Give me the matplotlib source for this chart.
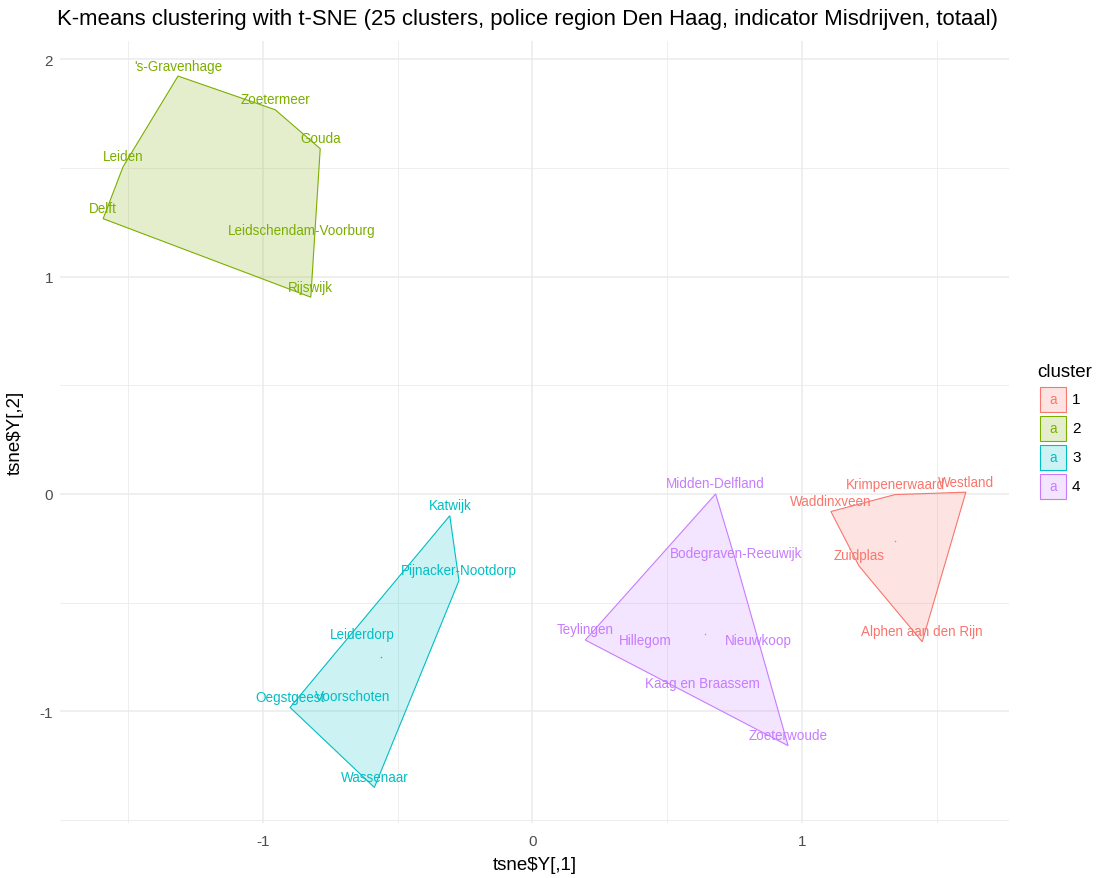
import numpy as np
import matplotlib
matplotlib.use('Agg')
import matplotlib.pyplot as plt
from matplotlib.patches import Polygon, Rectangle

plt.rcParams['font.family'] = ['Liberation Sans', 'DejaVu Sans']
plt.rcParams['axes.unicode_minus'] = False

# t-SNE coordinates per municipality with the k-means cluster they fell in
municipalities = [
    "'s-Gravenhage", "Zoetermeer", "Gouda", "Leiden", "Delft",
    "Leidschendam-Voorburg", "Rijswijk",
    "Katwijk", "Pijnacker-Nootdorp", "Leiderdorp", "Oegstgeest",
    "Voorschoten", "Wassenaar",
    "Midden-Delfland", "Bodegraven-Reeuwijk", "Teylingen", "Hillegom",
    "Nieuwkoop", "Kaag en Braassem", "Zoeterwoude",
    "Westland", "Krimpenerwaard", "Waddinxveen", "Zuidplas",
    "Alphen aan den Rijn",
]
tsne_x = [
    -1.316, -0.955, -0.788, -1.520, -1.594, -0.858, -0.823,
    -0.307, -0.273, -0.631, -0.900, -0.668, -0.587,
    0.680, 0.757, 0.196, 0.420, 0.840, 0.631, 0.949,
    1.609, 1.346, 1.108, 1.212, 1.447,
]
tsne_y = [
    1.922, 1.767, 1.588, 1.505, 1.266, 1.164, 0.905,
    -0.100, -0.399, -0.695, -0.982, -0.976, -1.350,
    0.000, -0.318, -0.672, -0.722, -0.722, -0.920, -1.158,
    0.008, -0.003, -0.081, -0.331, -0.680,
]
cluster = [2] * 7 + [3] * 6 + [4] * 7 + [1] * 5

cluster_levels = [1, 2, 3, 4]
cluster_colors = ['#F8766D', '#7CAE00', '#00BFC4', '#C77CFF']
show_centre = [True, False, True, True]

TITLE = ('K-means clustering with t-SNE (25 clusters, police region Den Haag, '
         'indicator Misdrijven, totaal)')


def convex_hull(pts):
    """Monotone chain hull, returns vertices counter-clockwise."""
    pts = sorted(set(map(tuple, pts)))
    if len(pts) < 3:
        return pts

    def cross(o, a, b):
        return (a[0] - o[0]) * (b[1] - o[1]) - (a[1] - o[1]) * (b[0] - o[0])

    lower, upper = [], []
    for p in pts:
        while len(lower) >= 2 and cross(lower[-2], lower[-1], p) <= 0:
            lower.pop()
        lower.append(p)
    for p in reversed(pts):
        while len(upper) >= 2 and cross(upper[-2], upper[-1], p) <= 0:
            upper.pop()
        upper.append(p)
    return lower[:-1] + upper[:-1]


x = np.array(tsne_x)
y = np.array(tsne_y)
cl = np.array(cluster)

W, H = 1102, 879
fig = plt.figure(figsize=(W / 100, H / 100), dpi=100)
ax = fig.add_axes([60 / W, 1 - 824 / H, (1009 - 60) / W, (824 - 41.5) / H])

for lvl, col, centre in zip(cluster_levels, cluster_colors, show_centre):
    m = cl == lvl
    hull = convex_hull(np.column_stack([x[m], y[m]]))
    ax.add_patch(Polygon(hull, closed=True, facecolor=col, alpha=0.2,
                         edgecolor='none', zorder=2))
    ax.add_patch(Polygon(hull, closed=True, facecolor='none',
                         edgecolor=col, linewidth=0.8, zorder=3))
    if centre:
        ax.scatter([x[m].mean()], [y[m].mean()], s=1.2, color=col,
                   linewidths=0, zorder=4)
    for name, px, py in zip(np.array(municipalities)[m], x[m], y[m]):
        ax.annotate(name, (px, py), xytext=(0, 7.6), textcoords='offset points',
                    ha='center', va='center', fontsize=9.75, color=col,
                    zorder=5)

# ggplot-like default expansion of 5% on each side
xr = x.max() - x.min()
yr = y.max() - y.min()
ax.set_xlim(x.min() - 0.05 * xr, x.max() + 0.05 * xr)
ax.set_ylim(y.min() - 0.05 * yr, y.max() + 0.05 * yr)

ax.set_xticks([-1, 0, 1])
ax.set_xticks([-1.5, -0.5, 0.5, 1.5], minor=True)
ax.set_yticks([-1, 0, 1, 2])
ax.set_yticks([-1.5, -0.5, 0.5, 1.5], minor=True)
ax.grid(True, which='major', color='#EBEBEB', linewidth=1.1, zorder=0)
ax.grid(True, which='minor', color='#EBEBEB', linewidth=0.6, zorder=0)
ax.set_axisbelow(True)
for s in ax.spines.values():
    s.set_visible(False)
ax.tick_params(which='both', length=0, labelsize=11, labelcolor='#4D4D4D')
ax.tick_params(axis='x', pad=8)
ax.tick_params(axis='y', pad=5)

ax.set_xlabel(r'tsne\$Y[,1]', fontsize=13.5, va='center')
ax.set_ylabel(r'tsne\$Y[,2]', fontsize=13.5, va='center')
ax.xaxis.set_label_coords(0.5, (824 - 866) / (824 - 41.5))
ax.yaxis.set_label_coords((15 - 60) / (1009 - 60), 0.5)

fig.text(57 / W, 1 - 19 / H, TITLE, fontsize=15.9, ha='left', va='center')

# legend drawn in pixel space on an overlay
lg = fig.add_axes([0, 0, 1, 1])
lg.set_xlim(0, W)
lg.set_ylim(H, 0)
lg.axis('off')
lg.text(1037, 373, 'cluster', fontsize=13.5, ha='left', va='center')
for i, (lvl, col) in enumerate(zip(cluster_levels, cluster_colors)):
    top = 388 + i * 29
    lg.add_patch(Rectangle((1040, top), 26, 25, facecolor=col, alpha=0.2,
                           edgecolor='none'))
    lg.add_patch(Rectangle((1040, top), 26, 25, facecolor='none',
                           edgecolor=col, linewidth=0.8))
    lg.text(1053, top + 12.5, 'a', fontsize=9.75, color=col,
            ha='center', va='center')
    lg.text(1072, top + 12.5, str(lvl), fontsize=11, ha='left', va='center')

fig.savefig('out.png', dpi=100)
